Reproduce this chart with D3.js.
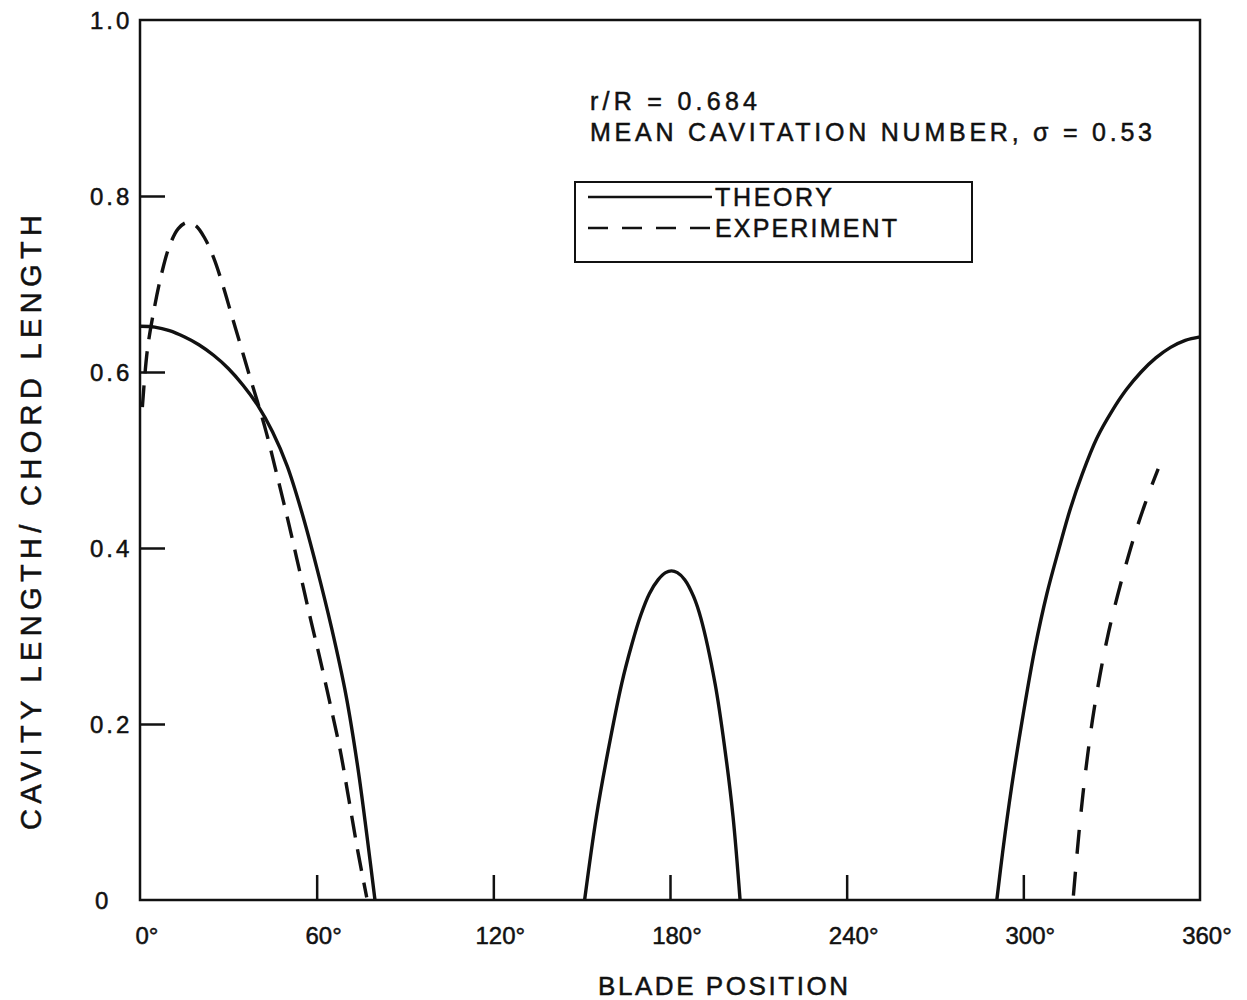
<!DOCTYPE html>
<html>
<head>
<meta charset="utf-8">
<script src="https://d3js.org/d3.v7.min.js"></script>
<style>
  body { margin: 0; background: #fff; }
  text { font-family: "Liberation Sans", "DejaVu Sans", sans-serif; fill: #111; stroke: #111; stroke-width: 0.5; }
</style>
</head>
<body>
<script>
// blade position (deg) vs cavity length / chord length
let theoryA = [[0,0.652],[5,0.651],[10,0.647],[15,0.64],[20,0.631],[25,0.619],[30,0.604],[35,0.585],[40,0.562],[45,0.532],[50,0.493],[55,0.44],[60,0.378],[65,0.31],[70,0.232],[74,0.15],[77,0.075],[79.8,0]];
let theoryB = [[151,0],[155,0.095],[159,0.17],[163.6,0.246],[167,0.29],[170,0.323],[173,0.348],[176,0.364],[178.5,0.372],[180.5,0.374],[182.5,0.372],[185,0.364],[188,0.345],[190.5,0.32],[195.3,0.246],[198.7,0.17],[201.4,0.095],[203.8,0]];
let theoryC = [[291,0],[293,0.055],[296,0.128],[300,0.212],[304,0.287],[308,0.348],[312,0.398],[316,0.445],[320,0.484],[325,0.525],[330,0.555],[335,0.58],[340,0.6],[345,0.616],[350,0.628],[355,0.636],[360,0.64]];
let expA = [[0.8,0.56],[2.5,0.625],[5,0.675],[7.5,0.714],[10,0.743],[13,0.763],[16,0.77],[19,0.766],[22,0.752],[25,0.73],[28,0.7],[31,0.666],[34,0.632],[37,0.598],[40,0.565],[43,0.53],[46,0.49],[50,0.435],[54,0.377],[58,0.318],[61,0.276],[64.5,0.224],[68,0.17],[71,0.113],[74,0.055],[77,0.003]];
let expC = [[317,0.005],[319,0.08],[321,0.142],[323.5,0.205],[326,0.255],[329,0.305],[332,0.346],[335,0.383],[338,0.417],[341,0.447],[343.5,0.47],[345.8,0.49]];

let xTicks = [0, 60, 120, 180, 240, 300, 360];
let yTicks = [0, 0.2, 0.4, 0.6, 0.8, 1.0];
let yTickLabels = ["0", "0.2", "0.4", "0.6", "0.8", "1.0"];

let width = 1247, height = 1000;
let plotLeft = 140, plotRight = 1200, plotTop = 20, plotBottom = 900;

let svg = d3.select("body").append("svg")
    .attr("width", width)
    .attr("height", height);

let x = d3.scaleLinear().domain([0, 360]).range([plotLeft, plotRight]);
let y = d3.scaleLinear().domain([0, 1]).range([plotBottom, plotTop]);

// frame
svg.append("rect")
    .attr("x", plotLeft).attr("y", plotTop)
    .attr("width", plotRight - plotLeft).attr("height", plotBottom - plotTop)
    .attr("fill", "none").attr("stroke", "#111").attr("stroke-width", 2.5);

// ticks pointing inward
let xAxis = d3.axisTop(x).tickValues(xTicks.slice(1, -1)).tickSize(25).tickFormat("");
svg.append("g").attr("transform", `translate(0,${plotBottom})`).call(xAxis)
    .call(g => g.select(".domain").remove())
    .selectAll("line").attr("stroke", "#111").attr("stroke-width", 2.5);

let yAxis = d3.axisRight(y).tickValues(yTicks.slice(1, -1)).tickSize(25).tickFormat("");
svg.append("g").attr("transform", `translate(${plotLeft},0)`).call(yAxis)
    .call(g => g.select(".domain").remove())
    .selectAll("line").attr("stroke", "#111").attr("stroke-width", 2.5);

// tick labels
svg.selectAll(".xlab").data(xTicks).join("text")
    .attr("class", "xlab")
    .attr("x", d => x(d) + 7)
    .attr("y", plotBottom + 44)
    .attr("text-anchor", "middle")
    .attr("font-size", 24)
    .text(d => d + "°");

svg.selectAll(".ylab").data(yTicks).join("text")
    .attr("class", "ylab")
    .attr("x", d => d === 0 ? 95 : 90)
    .attr("y", d => y(d) + 9)
    .attr("font-size", 24)
    .attr("letter-spacing", 3)
    .text((d, i) => yTickLabels[i]);

// axis titles
svg.append("text")
    .attr("x", 598).attr("y", 995)
    .attr("font-size", 26)
    .attr("textLength", 250).attr("lengthAdjust", "spacing")
    .text("BLADE POSITION");

svg.append("text")
    .attr("transform", "translate(41,830) rotate(-90)")
    .attr("font-size", 29)
    .attr("textLength", 615).attr("lengthAdjust", "spacing")
    .text("CAVITY LENGTH/ CHORD LENGTH");

// curves
let line = d3.line()
    .x(d => x(d[0]))
    .y(d => y(d[1]))
    .curve(d3.curveCatmullRom.alpha(0.5));

let series = [
    {data: theoryA, dash: null},
    {data: theoryB, dash: null},
    {data: theoryC, dash: null},
    {data: expA, dash: "22,12"},
    {data: expC, dash: "24,18"}
];

svg.selectAll(".curve").data(series).join("path")
    .attr("class", "curve")
    .attr("d", d => line(d.data))
    .attr("fill", "none")
    .attr("stroke", "#111")
    .attr("stroke-width", 3.4)
    .attr("stroke-dasharray", d => d.dash);

// annotation
svg.append("text")
    .attr("x", 590).attr("y", 110)
    .attr("font-size", 25)
    .attr("textLength", 167).attr("lengthAdjust", "spacing")
    .text("r/R = 0.684");
svg.append("text")
    .attr("x", 590).attr("y", 141)
    .attr("font-size", 25)
    .attr("textLength", 562).attr("lengthAdjust", "spacing")
    .text("MEAN CAVITATION NUMBER, σ = 0.53");

// legend
let legend = svg.append("g");
legend.append("rect")
    .attr("x", 575).attr("y", 182)
    .attr("width", 397).attr("height", 80)
    .attr("fill", "none").attr("stroke", "#111").attr("stroke-width", 2);
legend.append("line")
    .attr("x1", 588).attr("x2", 712).attr("y1", 197).attr("y2", 197)
    .attr("stroke", "#111").attr("stroke-width", 2.5);
legend.append("line")
    .attr("x1", 588).attr("x2", 712).attr("y1", 228).attr("y2", 228)
    .attr("stroke", "#111").attr("stroke-width", 2.5)
    .attr("stroke-dasharray", "20,14");
legend.append("text")
    .attr("x", 715).attr("y", 206)
    .attr("font-size", 25)
    .attr("textLength", 117).attr("lengthAdjust", "spacing")
    .text("THEORY");
legend.append("text")
    .attr("x", 715).attr("y", 237)
    .attr("font-size", 25)
    .attr("textLength", 182).attr("lengthAdjust", "spacing")
    .text("EXPERIMENT");
</script>
</body>
</html>
